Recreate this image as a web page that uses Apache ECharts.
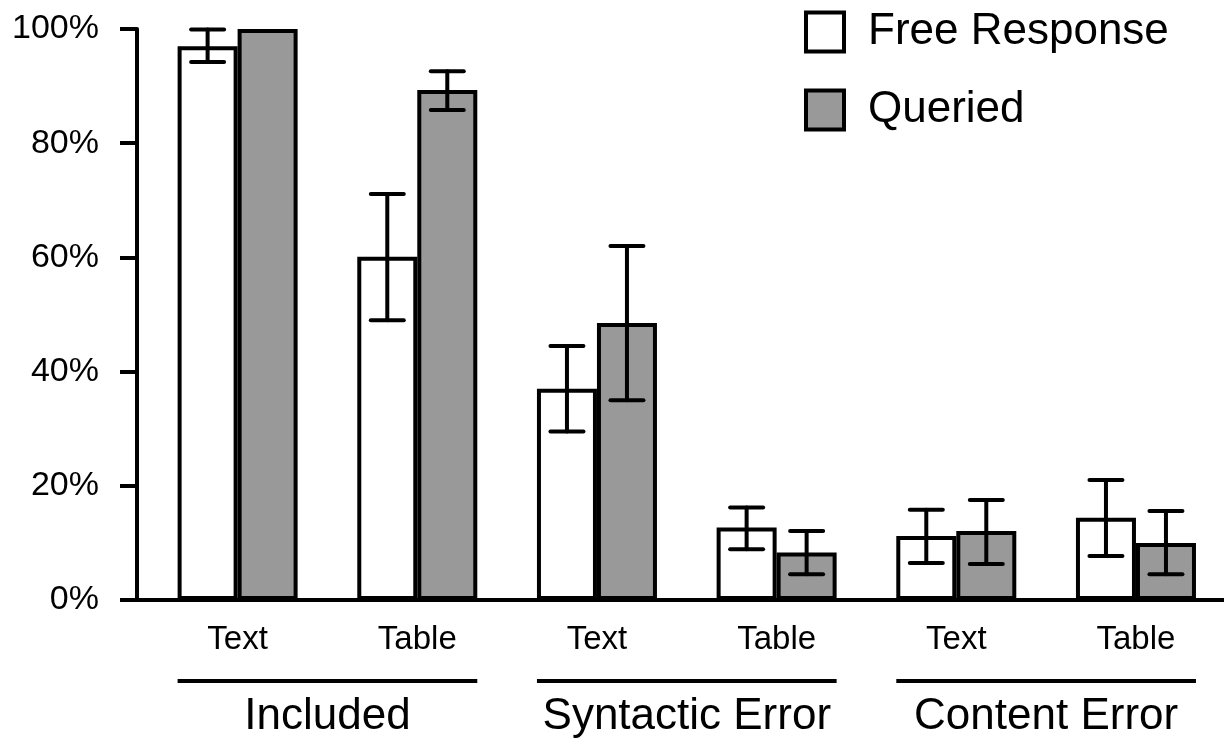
<!DOCTYPE html>
<html>
<head>
<meta charset="utf-8">
<script src="https://cdn.jsdelivr.net/npm/echarts@6/dist/echarts.min.js"></script>
<style>
html,body{margin:0;padding:0;background:#fff;}
#chart{width:1224px;height:741px;}
</style>
</head>
<body>
<div id="chart"></div>
<script>
// ---- data ----
const categories = ['Text', 'Table', 'Text', 'Table', 'Text', 'Table'];
const groups = ['Included', 'Syntactic Error', 'Content Error'];
const groupSpans = [[0, 1], [2, 3], [4, 5]];
const seriesNames = ['Free Response', 'Queried'];
const freeResponse = [97.0, 60.1, 37.0, 12.7, 11.2, 14.4];
const freeLow      = [94.2, 49.0, 29.5, 8.9, 6.5, 7.7];
const freeHigh     = [99.9, 71.1, 44.5, 16.2, 15.8, 21.0];
const queried      = [100, 89.3, 48.5, 8.3, 12.1, 10.0];
const queriedLow   = [null, 85.8, 35.0, 4.5, 6.3, 4.5];
const queriedHigh  = [null, 92.6, 62.0, 12.1, 17.5, 15.6];
const yTicks = [0, 20, 40, 60, 80, 100];

const FONT = '"Liberation Sans", Arial, Helvetica, sans-serif';
const BAR_W = 60;
const CAP_W = 33;
const LW = 4;

const chart = echarts.init(document.getElementById('chart'), null, {renderer: 'canvas'});

function errorSeries(name, low, high, dir) {
  return {
    type: 'custom',
    name: name + ' error',
    silent: true,
    z: 5,
    clip: false,
    data: low.map((l, i) => [i, l, high[i]]),
    renderItem: function (params, api) {
      const i = api.value(0);
      const lo = low[params.dataIndex], hi = high[params.dataIndex];
      if (lo == null || hi == null) return null;
      const pLo = api.coord([i, lo]);
      const pHi = api.coord([i, hi]);
      const x = pLo[0] + dir * BAR_W / 2;
      const st = {stroke: '#000', lineWidth: LW, lineCap: 'round'};
      return {
        type: 'group',
        children: [
          {type: 'line', shape: {x1: x, y1: pLo[1], x2: x, y2: pHi[1]}, style: st},
          {type: 'line', shape: {x1: x - CAP_W / 2, y1: pLo[1], x2: x + CAP_W / 2, y2: pLo[1]}, style: st},
          {type: 'line', shape: {x1: x - CAP_W / 2, y1: pHi[1], x2: x + CAP_W / 2, y2: pHi[1]}, style: st}
        ]
      };
    }
  };
}

const option = {
  animation: false,
  backgroundColor: '#fff',
  grid: {left: 137, right: 0, top: 29, bottom: 141},
  legend: {
    data: seriesNames,
    orient: 'vertical',
    left: 799,
    top: 5,
    itemWidth: 38,
    itemHeight: 39,
    itemGap: 34,
    icon: 'rect',
    itemStyle: {borderColor: '#000', borderWidth: LW},
    textStyle: {fontSize: 44, color: '#000', fontFamily: FONT, padding: [8, 0, 0, 19]},
    selectedMode: false
  },
  xAxis: {
    type: 'value',
    min: -0.56,
    max: 5.49,
    axisLine: {show: true, onZero: true, lineStyle: {color: '#000', width: LW}},
    axisTick: {show: false},
    axisLabel: {show: false},
    splitLine: {show: false}
  },
  yAxis: {
    type: 'value',
    min: 0,
    max: 100,
    interval: 20,
    axisLine: {show: true, onZero: false, lineStyle: {color: '#000', width: LW}},
    axisTick: {show: true, length: 17, lineStyle: {color: '#000', width: LW}},
    axisLabel: {
      formatter: function (v) { return yTicks.indexOf(v) >= 0 ? v + '%' : ''; },
      fontSize: 34, color: '#000', fontFamily: FONT, margin: 38
    },
    splitLine: {show: false}
  },
  series: [
    {
      type: 'bar',
      name: seriesNames[0],
      data: freeResponse.map((v, i) => [i, v]),
      barWidth: BAR_W,
      barGap: '0%',
      itemStyle: {color: '#ffffff', borderColor: '#000', borderWidth: LW},
      z: 3
    },
    {
      type: 'bar',
      name: seriesNames[1],
      data: queried.map((v, i) => [i, v]),
      barWidth: BAR_W,
      barGap: '0%',
      itemStyle: {color: '#999999', borderColor: '#000', borderWidth: LW},
      z: 3
    },
    errorSeries(seriesNames[0], freeLow, freeHigh, -1),
    errorSeries(seriesNames[1], queriedLow, queriedHigh, 1),
    {
      type: 'custom',
      name: 'category labels',
      silent: true,
      clip: false,
      data: categories.map((c, i) => [i, 0]),
      renderItem: function (params, api) {
        const p = api.coord([api.value(0), 0]);
        return {
          type: 'text',
          style: {
            x: p[0], y: p[1] + 40,
            text: categories[params.dataIndex],
            fill: '#000',
            font: '33px ' + FONT,
            align: 'center',
            verticalAlign: 'middle'
          }
        };
      }
    },
    {
      type: 'custom',
      name: 'group labels',
      silent: true,
      clip: false,
      data: groupSpans.map(s => [s[0], s[1]]),
      renderItem: function (params, api) {
        const a = api.coord([api.value(0), 0]);
        const b = api.coord([api.value(1), 0]);
        const x1 = a[0] - BAR_W, x2 = b[0] + BAR_W;
        return {
          type: 'group',
          children: [
            {type: 'line', shape: {x1: x1, y1: a[1] + 81, x2: x2, y2: a[1] + 81},
             style: {stroke: '#000', lineWidth: LW}},
            {type: 'text', style: {
              x: (x1 + x2) / 2, y: a[1] + 117,
              text: groups[params.dataIndex],
              fill: '#000',
              font: '44px ' + FONT,
              align: 'center',
              verticalAlign: 'middle'
            }}
          ]
        };
      }
    }
  ]
};

chart.setOption(option);
</script>
</body>
</html>
